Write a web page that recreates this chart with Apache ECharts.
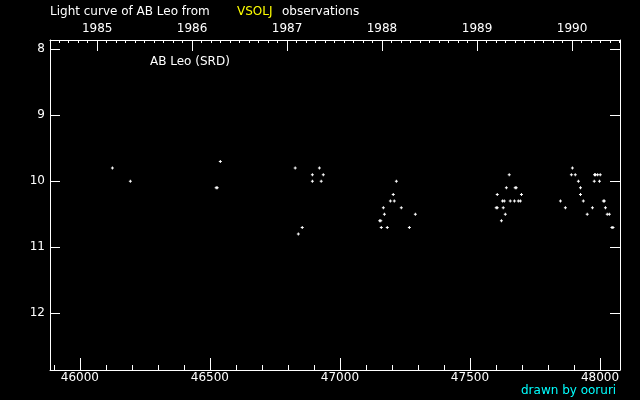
<!DOCTYPE html>
<html>
<head>
<meta charset="utf-8">
<script src="https://cdn.jsdelivr.net/npm/echarts@6/dist/echarts.min.js"></script>
<style>
  html, body { margin: 0; padding: 0; background: #000; }
  #chart { width: 640px; height: 400px; }
</style>
</head>
<body>
<div id="chart"></div>
<script>
// observations (JD - 2400000, visual magnitude)
const jd = [
  46125, 46194, 46540, 46524, 46528,
  46828, 46921, 46894, 46936, 46894, 46928, 46855, 46840,
  47217, 47205, 47194, 47209, 47167, 47236, 47171, 47290, 47153, 47157, 47159, 47182, 47267,
  47605, 47601, 47605, 47651, 47640, 47674, 47678, 47698, 47625, 47632, 47655, 47671, 47686, 47694, 47628, 47636, 47621,
  47894, 47890, 47905, 47917, 47925, 47925, 47848, 47936, 47867, 47951,
  47979, 47983, 47991, 48001, 47978, 47998, 47971, 48013, 48017, 48021, 48028, 48036, 48046, 48050
];
const mag = [
  9.8, 10.0, 9.7, 10.1, 10.1,
  9.8, 9.8, 9.9, 9.9, 10.0, 10.0, 10.7, 10.8,
  10.0, 10.2, 10.3, 10.3, 10.4, 10.4, 10.5, 10.5, 10.6, 10.6, 10.7, 10.7, 10.7,
  10.2, 10.4, 10.4, 9.9, 10.1, 10.1, 10.1, 10.2, 10.3, 10.3, 10.3, 10.3, 10.3, 10.3, 10.4, 10.5, 10.6,
  9.8, 9.9, 9.9, 10.0, 10.1, 10.2, 10.3, 10.3, 10.4, 10.5,
  9.9, 9.9, 9.9, 9.9, 10.0, 10.0, 10.4, 10.3, 10.3, 10.4, 10.5, 10.5, 10.7, 10.7
];

// axis ticks
const jdMajor = [46000, 46500, 47000, 47500, 48000];
const magTicks = [8, 9, 10, 11, 12];
const yearLabels = [1984, 1985, 1986, 1987, 1988, 1989, 1990];
const yearStarts = [45700.5, 46066.5, 46431.5, 46796.5, 47161.5, 47527.5, 47892.5, 48257.5];

const jdMin = 45885, jdMax = 48077;
const magMin = 7.86, magMax = 12.86;

const jdMinor = [];
for (let v = 45900; v <= 48000; v += 100) jdMinor.push(v);

// year ticks every 0.1 year
const yearMinor = [];
for (let i = 0; i < yearLabels.length; i++) {
  const len = yearStarts[i + 1] - yearStarts[i];
  for (let k = 1; k < 10; k++) {
    const v = yearStarts[i] + len * k / 10;
    if (v > jdMin && v < jdMax) yearMinor.push(v);
  }
}
const yearMajor = yearStarts.filter(v => v > jdMin && v < jdMax);

const font = '"DejaVu Sans", sans-serif';
const white = "#ffffff";

const plus = "path://M1,0H2V1H3V2H2V3H1V2H0V1H1Z";

const chart = echarts.init(document.getElementById("chart"), null, { renderer: "canvas" });

const baseX = (extra) => Object.assign({
  type: "value",
  min: jdMin,
  max: jdMax,
  splitLine: { show: false },
  axisLine: { show: false },
  axisLabel: { show: false },
}, extra);

chart.setOption({
  backgroundColor: "#000000",
  animation: false,
  grid: { left: 50, top: 40, width: 570, height: 330 },
  xAxis: [
    baseX({
      position: "bottom",
      axisLine: { show: true, lineStyle: { color: white, width: 1 } },
      axisTick: { show: true, inside: true, length: 12, customValues: jdMajor, lineStyle: { color: white } },
      axisLabel: {
        show: true, customValues: jdMajor, color: white, fontSize: 12, fontFamily: font, margin: 2,
        formatter: (v) => String(v),
      },
    }),
    baseX({
      position: "bottom",
      axisTick: { show: true, inside: true, length: 5, customValues: jdMinor, lineStyle: { color: white } },
    }),
    baseX({
      position: "top",
      axisLine: { show: true, lineStyle: { color: white, width: 1 } },
      axisTick: { show: true, inside: true, length: 11, customValues: yearMajor, lineStyle: { color: white } },
      axisLabel: {
        show: true, customValues: yearMajor, color: white, fontSize: 12, fontFamily: font, margin: 5,
        formatter: (v) => {
          const i = yearStarts.findIndex(s => Math.abs(s - v) < 0.01);
          return i >= 0 ? String(yearLabels[i]) : "";
        },
      },
    }),
    baseX({
      position: "top",
      axisTick: { show: true, inside: true, length: 3, customValues: yearMinor, lineStyle: { color: white } },
    }),
  ],
  yAxis: [
    {
      type: "value",
      inverse: true,
      min: magMin,
      max: magMax,
      position: "left",
      splitLine: { show: false },
      axisLine: { show: true, lineStyle: { color: white, width: 1 } },
      axisTick: { show: true, inside: true, length: 10, customValues: magTicks, lineStyle: { color: white } },
      axisLabel: { customValues: magTicks, color: white, fontSize: 12, fontFamily: font, margin: 5 },
    },
    {
      type: "value",
      inverse: true,
      min: magMin,
      max: magMax,
      position: "right",
      splitLine: { show: false },
      axisLine: { show: true, lineStyle: { color: white, width: 1 } },
      axisTick: { show: true, inside: true, length: 10, customValues: magTicks, lineStyle: { color: white } },
      axisLabel: { show: false },
    },
  ],
  graphic: [
    { type: "text", left: 50, top: 6, style: { text: "Light curve of AB Leo from", fill: white, font: "12px " + font } },
    { type: "text", left: 237, top: 6, style: { text: "VSOLJ", fill: "#ffff00", font: "12px " + font } },
    { type: "text", left: 282, top: 6, style: { text: "observations", fill: white, font: "12px " + font } },
    { type: "text", left: 150, top: 56, style: { text: "AB Leo (SRD)", fill: white, font: "12px " + font } },
    { type: "text", left: 521, top: 385, style: { text: "drawn by ooruri", fill: "#00ffff", font: "12px " + font } },
  ],
  series: [
    {
      type: "scatter",
      xAxisIndex: 0,
      yAxisIndex: 0,
      symbol: plus,
      symbolSize: 3,
      itemStyle: { color: white, opacity: 1 },
      data: jd.map((d, i) => [d, mag[i]]),
    },
  ],
});
</script>
</body>
</html>
